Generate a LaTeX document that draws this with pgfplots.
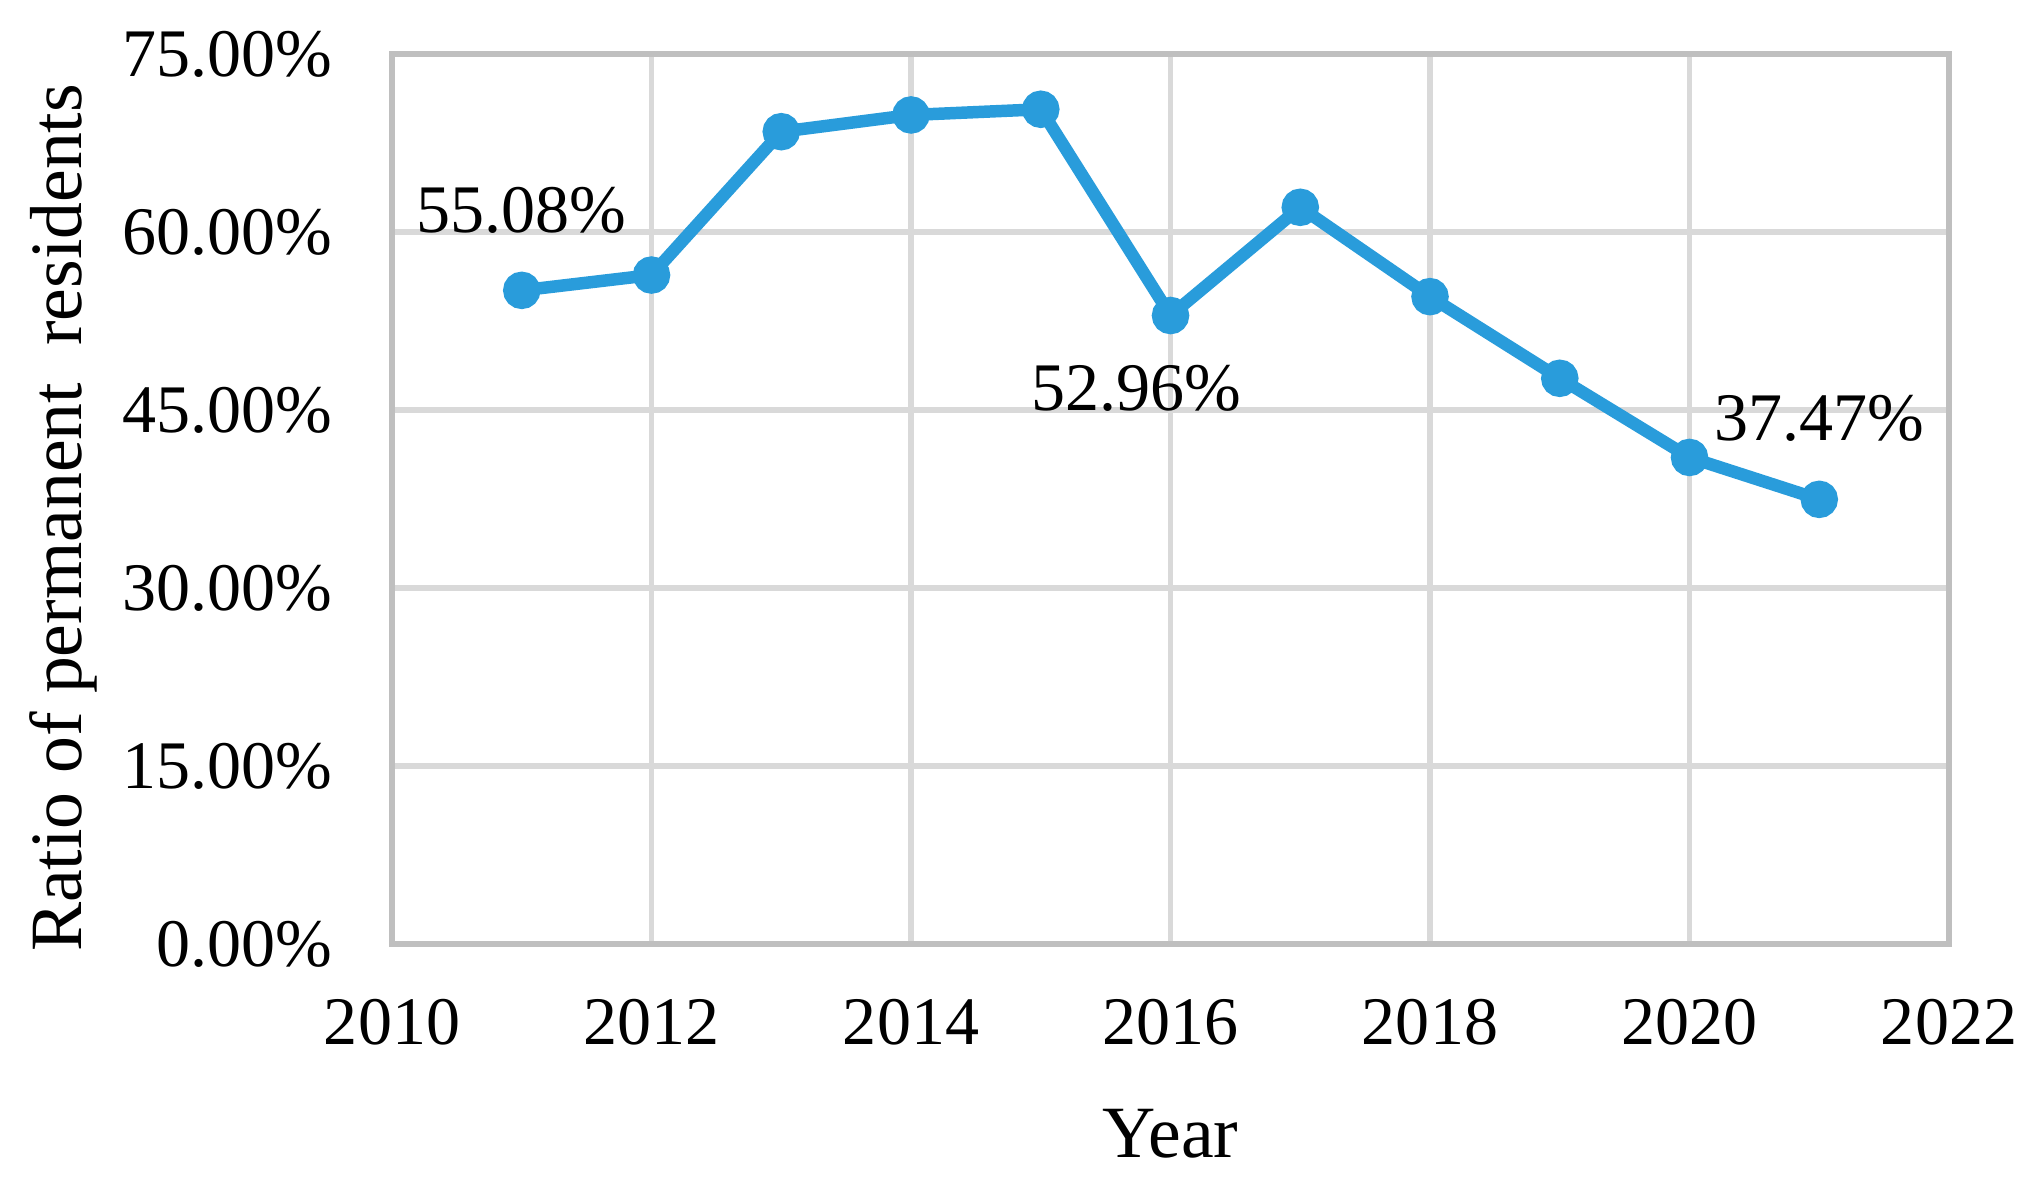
\documentclass[border=0pt]{standalone}
\usepackage{fontspec}
\setmainfont{Liberation Serif}
\usepackage{pgfplots}
\pgfplotsset{compat=1.18}
\definecolor{lineblue}{RGB}{41,156,219}
\definecolor{gridgray}{RGB}{217,217,217}
\definecolor{framegray}{RGB}{191,191,191}
\begin{document}
\begin{tikzpicture}
\path[use as bounding box] (-69.14pt,-41.45pt) rectangle (289.06pt,166.49pt);
\begin{axis}[
  at={(0,0)}, anchor=south west,
  scale only axis, width=274.6pt, height=156.97pt,
  xmin=2010, xmax=2022, ymin=0, ymax=75,
  xtick={2010,2012,...,2022}, ytick={0,15,...,75},
  grid=major, major grid style={gridgray, line width=0.9pt},
  axis line style={framegray, line width=0.9pt},
  major tick length=0pt,
  /pgf/number format/assume math mode=true,
  xticklabel style={font=\fontsize{12}{14}\selectfont, yshift=-6.2pt, /pgf/number format/1000 sep={}},
  yticklabel style={font=\fontsize{12}{14}\selectfont, xshift=-7pt},
  yticklabel={\pgfmathprintnumber[fixed,fixed zerofill,precision=2]{\tick}\%},
  xlabel={Year},
  xlabel style={font=\fontsize{13}{15}\selectfont, at={(axis description cs:0.5,-0.2395)}, anchor=base},
  ylabel={Ratio of permanent\ \ residents},
  ylabel style={font=\fontsize{13}{15}\selectfont, at={(axis description cs:-0.1992,0.4787)}, anchor=base, rotate=0},
]
\addplot[color=lineblue, line width=2.2pt, mark=*, mark size=2.2pt, mark options={draw=none, fill=lineblue}]
  coordinates {
  (2011,55.08) (2012,56.37) (2013,68.45) (2014,69.86) (2015,70.34)
  (2016,52.96) (2017,62.08) (2018,54.55) (2019,47.67) (2020,41.00) (2021,37.47)
  };
\node[font=\fontsize{12}{14}\selectfont, anchor=base, yshift=10.2pt] at (axis cs:2011,55.08) {55.08\%};
\node[font=\fontsize{12}{14}\selectfont, anchor=base, yshift=-16.8pt, xshift=-6pt] at (axis cs:2016,52.96) {52.96\%};
\node[font=\fontsize{12}{14}\selectfont, anchor=base, yshift=10.4pt] at (axis cs:2021,37.47) {37.47\%};
\end{axis}
\end{tikzpicture}
\end{document}
